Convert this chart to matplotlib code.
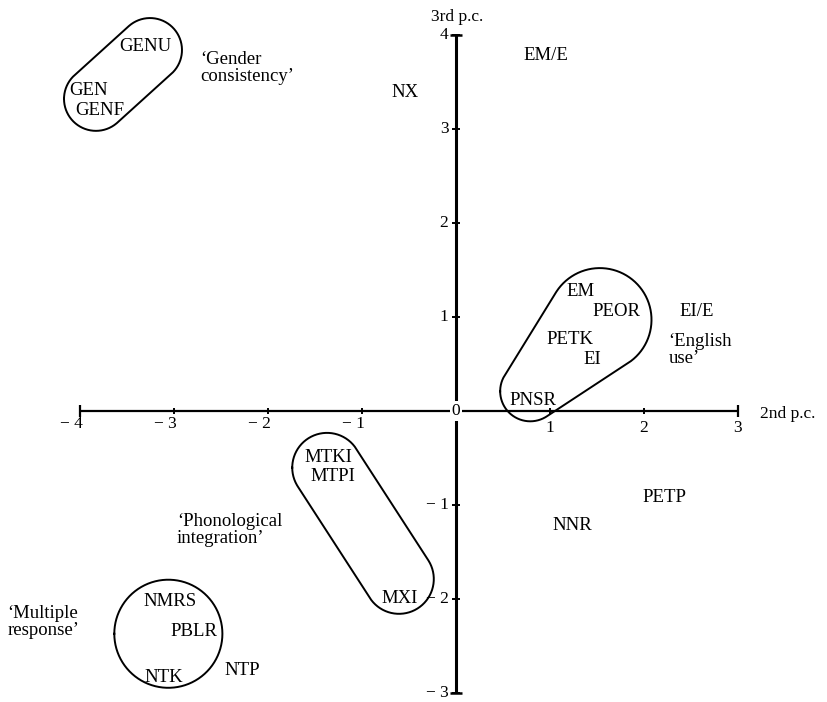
import numpy as np
import matplotlib
matplotlib.use('Agg')
import matplotlib.pyplot as plt

plt.rcParams['font.family'] = ['Liberation Serif', 'DejaVu Serif']

# variable labels placed at their (2nd p.c., 3rd p.c.) loadings
labels = ['GENU', 'GEN', 'GENF', 'NX', 'EM/E', 'EM', 'PEOR', 'EI/E', 'PETK', 'EI',
          'PNSR', 'MTKI', 'MTPI', 'MXI', 'PETP', 'NNR', 'NMRS', 'PBLR', 'NTK', 'NTP']
pc2 = [-3.30, -3.91, -3.79, -0.54, 0.96, 1.32, 1.71, 2.56, 1.21, 1.45,
       0.82, -1.36, -1.31, -0.60, 2.22, 1.24, -3.04, -2.79, -3.11, -2.27]
pc3 = [3.88, 3.41, 3.20, 3.39, 3.78, 1.27, 1.06, 1.06, 0.76, 0.55,
       0.11, -0.49, -0.70, -2.00, -0.92, -1.22, -2.03, -2.35, -2.84, -2.76]

# cluster names
group_text = ["\u2018Gender\nconsistency\u2019", "\u2018English\nuse\u2019",
              "\u2018Phonological\nintegration\u2019", "\u2018Multiple\nresponse\u2019"]
group_x = [-2.72, 2.26, -2.97, -4.77]
group_y = [3.65, 0.645, -1.265, -2.245]

# cluster outlines: hull of two circles (cx1, cy1, r1, cx2, cy2, r2)
outlines = [
    (-3.255, 3.84, 0.34, -3.83, 3.32, 0.34),
    (1.53, 0.97, 0.55, 0.79, 0.21, 0.32),
    (-1.372, -0.603, 0.37, -0.606, -1.788, 0.37),
    (-3.06, -2.37, 0.575, -3.06, -2.37, 0.575),
]

x_ticks = [-4, -3, -2, -1, 1, 2, 3]
y_ticks = [-3, -2, -1, 1, 2, 3, 4]


def convex_hull(pts):
    pts = sorted(map(tuple, pts))

    def cross(o, a, b):
        return (a[0] - o[0]) * (b[1] - o[1]) - (a[1] - o[1]) * (b[0] - o[0])

    lower, upper = [], []
    for p in pts:
        while len(lower) >= 2 and cross(lower[-2], lower[-1], p) <= 0:
            lower.pop()
        lower.append(p)
    for p in reversed(pts):
        while len(upper) >= 2 and cross(upper[-2], upper[-1], p) <= 0:
            upper.pop()
        upper.append(p)
    h = lower[:-1] + upper[:-1]
    h.append(h[0])
    return np.array(h)


def outline(cx1, cy1, r1, cx2, cy2, r2, n=360):
    t = np.linspace(0, 2 * np.pi, n, endpoint=False)
    a = np.column_stack([cx1 + r1 * np.cos(t), cy1 + r1 * np.sin(t)])
    b = np.column_stack([cx2 + r2 * np.cos(t), cy2 + r2 * np.sin(t)])
    return convex_hull(np.vstack([a, b]))


fig = plt.figure(figsize=(8.27, 7.02), dpi=100)
ax = fig.add_axes([0, 0, 1, 1])
ax.set_xlim(-4.851, 3.947)
ax.set_ylim(-3.096, 4.372)
ax.axis('off')

# axes through the origin
ax.plot([-4, 3], [0, 0], color='black', lw=1.6, solid_capstyle='butt')
ax.plot([0, 0], [-3, 4], color='black', lw=2.2, solid_capstyle='butt')
ax.plot(x_ticks, [0] * len(x_ticks), ls='none', marker='|', ms=5, mew=1.4, color='black')
ax.plot([-4, 3], [0, 0], ls='none', marker='|', ms=8, mew=1.6, color='black')
ax.plot([0] * len(y_ticks), y_ticks, ls='none', marker='_', ms=6, mew=1.4, color='black')
ax.plot([0, 0], [-3, 4], ls='none', marker='_', ms=8, mew=1.8, color='black')

for v in x_ticks:
    if v < 0:
        ax.text(v + 0.03, -0.14, '\u2212 %d' % -v, ha='right', va='center', fontsize=12.5)
    else:
        ax.text(v, -0.18, '%d' % v, ha='center', va='center', fontsize=12.5)
for v in y_ticks:
    s = '\u2212 %d' % -v if v < 0 else '%d' % v
    ax.text(-0.08, v, s, ha='right', va='center', fontsize=12.5)
ax.text(0, 0, '0', ha='center', va='center', fontsize=12.5,
        bbox=dict(facecolor='white', edgecolor='none', pad=1.5))
ax.text(0.01, 4.19, '3rd p.c.', ha='center', va='center', fontsize=12.5)
ax.text(3.23, -0.03, '2nd p.c.', ha='left', va='center', fontsize=12.5)

for o in outlines:
    h = outline(*o)
    ax.plot(h[:, 0], h[:, 1], color='black', lw=1.4)

for s, x, y in zip(labels, pc2, pc3):
    ax.text(x, y, s, ha='center', va='center', fontsize=13.5)

for s, x, y in zip(group_text, group_x, group_y):
    ax.text(x, y, s, ha='left', va='center', fontsize=13.5, linespacing=1.0)

fig.savefig('out.png', dpi=100, facecolor='white')
